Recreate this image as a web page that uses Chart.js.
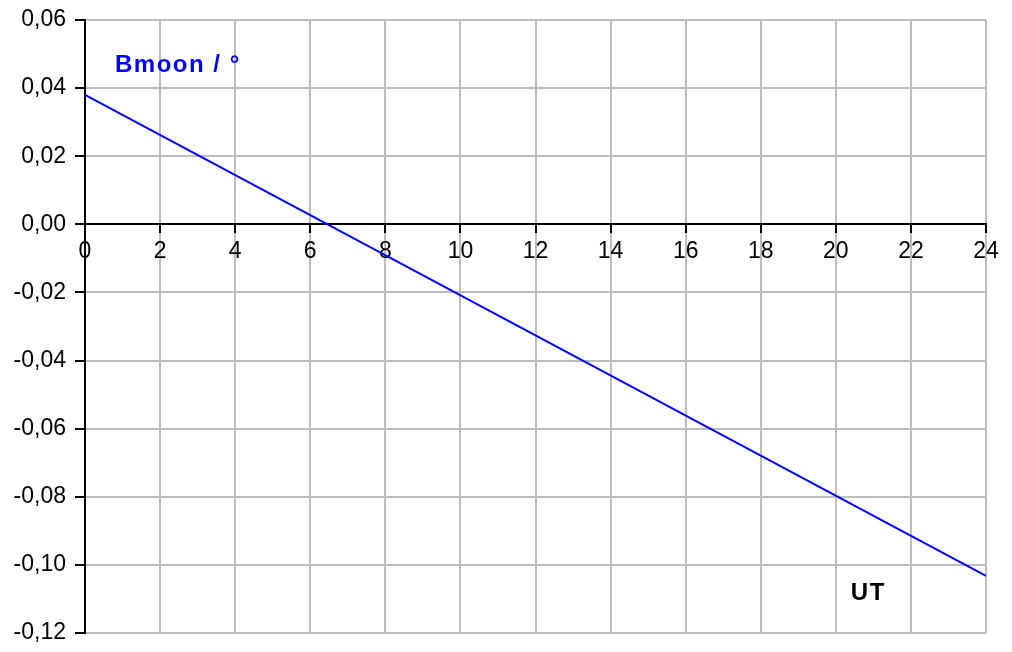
<!DOCTYPE html>
<html>
<head>
<meta charset="utf-8">
<script src="https://cdn.jsdelivr.net/npm/chart.js@4/dist/chart.umd.min.js"></script>
<style>
  html, body { margin: 0; padding: 0; background: #fff; }
  #wrap { width: 1012px; height: 652px; }
</style>
</head>
<body>
<div id="wrap"><canvas id="myChart" width="1012" height="652"></canvas></div>
<script>
// Data
const utHours = [0, 24];
const bmoonValues = [0.038, -0.1032];
const xTicks = [0, 2, 4, 6, 8, 10, 12, 14, 16, 18, 20, 22, 24];
const yTicks = [0.06, 0.04, 0.02, 0.00, -0.02, -0.04, -0.06, -0.08, -0.10, -0.12];

const fontFamily = '"Liberation Sans", Arial, sans-serif';
const gridGray = '#bdbdbd';

// Draw the two in-chart labels
const labelsPlugin = {
    id: 'axisTitles',
    afterDraw(chart) {
        const ctx = chart.ctx;
        const xs = chart.scales.x, ys = chart.scales.y;
        ctx.save();
        ctx.font = 'bold 24px ' + fontFamily;
        ctx.letterSpacing = '1.5px';
        ctx.textBaseline = 'middle';
        ctx.fillStyle = '#0000ff';
        ctx.fillText('Bmoon / °', xs.getPixelForValue(0.8), ys.getPixelForValue(0.0466));
        ctx.fillStyle = '#000';
        ctx.fillText('UT', xs.getPixelForValue(20.4), ys.getPixelForValue(-0.1083));
        ctx.restore();
    }
};

function renderChart() {
    const ctx = document.getElementById('myChart').getContext('2d');
    new Chart(ctx, {
        type: 'line',
        data: {
            datasets: [{
                label: 'Bmoon',
                data: utHours.map((h, i) => ({ x: h, y: bmoonValues[i] })),
                borderColor: '#0000ff',
                borderWidth: 2,
                pointRadius: 0,
                fill: false,
                tension: 0
            }]
        },
        options: {
            responsive: false,
            animation: false,
            layout: { padding: { top: 20, right: 26, bottom: 19, left: 0 } },
            plugins: { legend: { display: false }, tooltip: { enabled: false } },
            scales: {
                x: {
                    type: 'linear',
                    position: { y: 0 },
                    min: 0, max: 24,
                    afterFit(scale) { scale.paddingLeft = 0; scale.paddingRight = 0; },
                    afterBuildTicks(scale) { scale.ticks = xTicks.map(v => ({ value: v })); },
                    ticks: {
                        autoSkip: false, maxRotation: 0, padding: 6,
                        color: '#000',
                        font: { family: fontFamily, size: 23 }
                    },
                    grid: { color: gridGray, lineWidth: 2, tickColor: '#000', tickLength: 8 },
                    border: { color: '#000', width: 2 }
                },
                y: {
                    min: -0.12, max: 0.06,
                    afterFit(scale) {
                        scale.width = 85;
                        scale.paddingTop = 0;
                        scale.paddingBottom = 0;
                    },
                    afterBuildTicks(scale) { scale.ticks = yTicks.map(v => ({ value: v })); },
                    ticks: {
                        autoSkip: false, padding: 9,
                        color: '#000',
                        font: { family: fontFamily, size: 23 },
                        callback: v => v.toFixed(2).replace('.', ',').replace('-0,00', '0,00')
                    },
                    grid: { color: gridGray, lineWidth: 2, tickColor: '#000', tickLength: 10 },
                    border: { color: '#000', width: 2 }
                }
            }
        },
        plugins: [labelsPlugin]
    });
}

renderChart();
</script>
</body>
</html>
